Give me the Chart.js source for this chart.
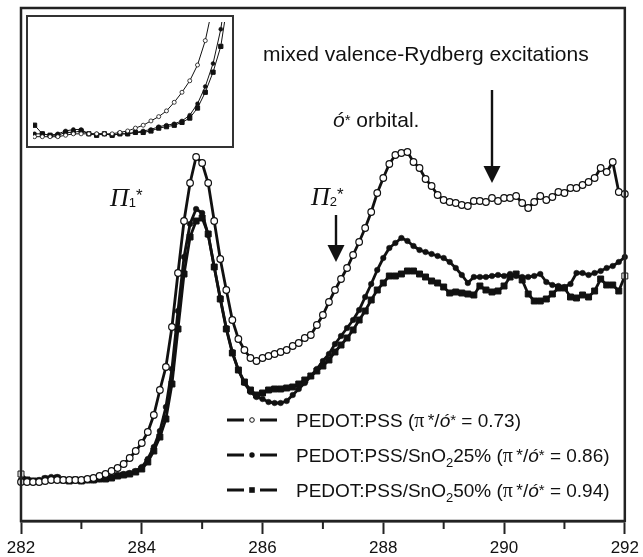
<!DOCTYPE html>
<html>
<head>
<meta charset="utf-8">
<script src="https://cdn.jsdelivr.net/npm/chart.js@4.4.0/dist/chart.umd.min.js"></script>
<style>
  html, body { margin: 0; padding: 0; background: #fff; }
  #wrap { position: relative; width: 643px; height: 557px; }
  #main { position: absolute; left: 0; top: 0; }
  #insetBox { position: absolute; left: 26px; top: 15px; width: 204px; height: 129px; border: 2px solid #333; background: #fff; }
  #inset { display: block; }
</style>
</head>
<body>
<div id="wrap">
  <canvas id="main" width="643" height="557"></canvas>
  <div id="insetBox"><canvas id="inset" width="204" height="129"></canvas></div>
</div>
<script>
// photon energy (eV)
const energy = [
  282.0, 282.1, 282.2, 282.3, 282.4, 282.5, 282.6, 282.7, 282.8, 282.9,
  283.0, 283.1, 283.2, 283.3, 283.4, 283.5, 283.6, 283.7, 283.8, 283.9,
  284.0, 284.1, 284.2, 284.3, 284.4, 284.5, 284.6, 284.7, 284.8, 284.9,
  285.0, 285.1, 285.2, 285.3, 285.4, 285.5, 285.6, 285.7, 285.8, 285.9,
  286.0, 286.1, 286.2, 286.3, 286.4, 286.5, 286.6, 286.7, 286.8, 286.9,
  287.0, 287.1, 287.2, 287.3, 287.4, 287.5, 287.6, 287.7, 287.8, 287.9,
  288.0, 288.1, 288.2, 288.3, 288.4, 288.5, 288.6, 288.7, 288.8, 288.9,
  289.0, 289.1, 289.2, 289.3, 289.4, 289.5, 289.6, 289.7, 289.8, 289.9,
  290.0, 290.1, 290.2, 290.3, 290.4, 290.5, 290.6, 290.7, 290.8, 290.9,
  291.0, 291.1, 291.2, 291.3, 291.4, 291.5, 291.6, 291.7, 291.8, 291.9,
  292.0
];

// intensity (a.u.)
const pedotPss = [
  37, 37, 37, 37, 38, 39, 39, 39, 39, 39,
  39, 40, 41, 43, 45, 48, 51, 55, 61, 68,
  76, 87, 104, 129, 152, 192, 246, 298, 336, 362,
  356, 336, 298, 260, 229, 199, 180, 169, 161, 158,
  161, 163, 165, 167, 169, 173, 176, 181, 184, 194,
  204, 217, 229, 240, 251, 264, 277, 291, 307, 326,
  341, 355, 364, 366, 367, 357, 351, 340, 333, 324,
  319, 317, 316, 314, 313, 318, 318, 317, 321, 318,
  321, 321, 323, 316, 311, 317, 323, 319, 322, 327,
  326, 331, 331, 334, 337, 341, 351, 347, 357, 327,
  325
];

const sno2_25 = [
  39, 39, 38, 39, 41, 42, 42, 39, 39, 39,
  38, 39, 39, 40, 41, 42, 44, 45, 46, 48,
  52, 60, 72, 88, 112, 150, 208, 262, 295, 310,
  306, 284, 252, 221, 191, 167, 149, 136, 127, 122,
  120, 117, 116, 116, 118, 124, 130, 136, 143, 150,
  158, 165, 175, 183, 191, 199, 209, 222, 235, 249,
  261, 271, 276, 281, 278, 273, 269, 267, 265, 263,
  261, 257, 251, 244, 236, 242, 242, 242, 243, 244,
  243, 245, 243, 242, 242, 243, 245, 237, 234, 233,
  232, 235, 246, 246, 244, 246, 248, 251, 253, 257,
  262
];

const sno2_50 = [
  45, 39, 38, 38, 40, 40, 41, 39, 38, 39,
  38, 39, 39, 40, 40, 41, 43, 44, 45, 47,
  50, 57, 68, 82, 100, 135, 190, 245, 282, 298,
  301, 285, 252, 220, 190, 166, 149, 137, 129, 124,
  126, 129, 130, 130, 131, 132, 135, 139, 143, 148,
  153, 159, 167, 174, 181, 189, 199, 208, 219, 229,
  236, 243, 243, 245, 248, 248, 245, 242, 238, 236,
  232, 226, 227, 226, 225, 224, 233, 229, 227, 228,
  233, 242, 245, 239, 225, 218, 218, 220, 225, 231,
  231, 222, 221, 224, 222, 228, 240, 234, 234, 228,
  243
];

const seriesNames = ['PEDOT:PSS', 'PEDOT:PSS/SnO₂25%', 'PEDOT:PSS/SnO₂50%'];
const ratios = ['0.73', '0.86', '0.94'];
const minorTicks = [283, 285, 287, 289, 291];

const SANS = '"Liberation Sans", Arial, Helvetica, sans-serif';
const SERIF = '"Liberation Serif", "Times New Roman", serif';
const INK = '#111';

const toPoints = ys => energy.map((e, i) => ({ x: e, y: ys[i] }));
const lastIdx = energy.length - 1;

function makeSets(small) {
    return [{
        label: seriesNames[0],
        data: toPoints(pedotPss),
        borderColor: INK,
        borderWidth: small ? 1 : 2.8,
        pointStyle: 'circle',
        pointRadius: small ? 2 : 3.3,
        pointBackgroundColor: '#fff',
        pointBorderColor: INK,
        pointBorderWidth: small ? 0.8 : 1.2
    }, {
        label: seriesNames[1],
        data: toPoints(sno2_25),
        borderColor: INK,
        borderWidth: small ? 1 : 2.8,
        pointStyle: 'circle',
        pointRadius: small ? 2 : 2.8,
        pointBackgroundColor: INK,
        pointBorderColor: INK,
        pointBorderWidth: 0.5
    }, {
        label: seriesNames[2],
        data: toPoints(sno2_50),
        borderColor: INK,
        borderWidth: small ? 1 : 2.8,
        pointStyle: 'rect',
        pointRadius: small ? 3 : 4.2,
        pointBackgroundColor: c => (!small && (c.dataIndex === 0 || c.dataIndex === lastIdx)) ? '#fff' : INK,
        pointBorderColor: INK,
        pointBorderWidth: 1
    }];
}

function drawRich(ctx, x, y, parts) {
    for (const [text, font, dy = 0] of parts) {
        ctx.font = font;
        ctx.fillText(text, x, y + dy);
        x += ctx.measureText(text).width;
    }
    return x;
}

function arrowDown(ctx, x, yFrom, yTip) {
    ctx.beginPath();
    ctx.moveTo(x, yFrom);
    ctx.lineTo(x, yTip - 12);
    ctx.stroke();
    ctx.beginPath();
    ctx.moveTo(x - 8.5, yTip - 17);
    ctx.lineTo(x + 8.5, yTip - 17);
    ctx.lineTo(x, yTip);
    ctx.closePath();
    ctx.fill();
}

function legendMarker(ctx, i, x, y) {
    ctx.beginPath();
    if (i === 0) {
        ctx.arc(x, y, 2.3, 0, Math.PI * 2);
        ctx.fillStyle = '#fff';
        ctx.fill();
        ctx.lineWidth = 1;
        ctx.stroke();
    } else if (i === 1) {
        ctx.arc(x, y, 2.7, 0, Math.PI * 2);
        ctx.fillStyle = INK;
        ctx.fill();
    } else {
        ctx.fillStyle = INK;
        ctx.fillRect(x - 2.8, y - 2.8, 5.6, 5.6);
    }
}

const decorations = {
    id: 'decorations',
    afterDraw(chart) {
        const { ctx, chartArea: a, scales: { x } } = chart;
        ctx.save();
        ctx.strokeStyle = '#222';
        ctx.fillStyle = INK;

        // frame
        ctx.lineWidth = 2.5;
        ctx.strokeRect(a.left, a.top, a.right - a.left, a.bottom - a.top);

        // minor ticks
        ctx.lineWidth = 2;
        minorTicks.forEach(v => {
            const px = x.getPixelForValue(v);
            ctx.beginPath();
            ctx.moveTo(px, a.bottom);
            ctx.lineTo(px, a.bottom + 8);
            ctx.stroke();
        });

        // annotations
        ctx.textBaseline = 'alphabetic';
        ctx.fillStyle = INK;
        ctx.font = `21px ${SANS}`;
        ctx.fillText('mixed valence-Rydberg excitations', 263, 61);
        drawRich(ctx, 333, 127, [
            ['ó', `italic 21px ${SANS}`],
            ['*', `15px ${SANS}`, -2],
            [' orbital.', `21px ${SANS}`]
        ]);
        drawRich(ctx, 110, 206, [
            ['Π', `italic 26px ${SERIF}`],
            ['1', `13px ${SANS}`, 1],
            ['*', `17px ${SANS}`, -5]
        ]);
        drawRich(ctx, 311, 205, [
            ['Π', `italic 26px ${SERIF}`],
            ['2', `13px ${SANS}`, 1],
            ['*', `17px ${SANS}`, -5]
        ]);

        ctx.lineWidth = 2.4;
        ctx.strokeStyle = INK;
        arrowDown(ctx, 492, 90, 183);
        arrowDown(ctx, 336, 215, 262);

        // legend
        const rowsY = [427, 462, 497];
        rowsY.forEach((by, i) => {
            const my = by - 7;
            ctx.strokeStyle = INK;
            ctx.lineWidth = 3;
            ctx.beginPath();
            ctx.moveTo(227, my); ctx.lineTo(244, my);
            ctx.moveTo(260, my); ctx.lineTo(277, my);
            ctx.stroke();
            legendMarker(ctx, i, 252, my);

            ctx.fillStyle = INK;
            const sans = `19px ${SANS}`;
            const parts = [];
            seriesNames[i].split('₂').forEach((seg, k) => {
                if (k) parts.push(['2', `13px ${SANS}`, 5]);
                parts.push([seg, sans]);
            });
            parts.push([' (', sans], ['π', `20px ${SERIF}`], ['\u2009*', `17px ${SANS}`, -1],
                ['/', sans], ['ó', `italic 19px ${SANS}`], ['*', `15px ${SANS}`, -2],
                [' = ' + ratios[i] + ')', sans]);
            drawRich(ctx, 296, by, parts);
        });
        ctx.restore();
    }
};

new Chart(document.getElementById('main'), {
    type: 'line',
    data: { datasets: makeSets(false).map(d => ({ ...d, clip: false })) },
    options: {
        responsive: false,
        animation: false,
        events: [],
        layout: { padding: { left: 21, right: 15, top: 8, bottom: 0 } },
        plugins: { legend: { display: false }, tooltip: { enabled: false } },
        scales: {
            x: {
                type: 'linear',
                min: 282,
                max: 292,
                ticks: {
                    stepSize: 2,
                    color: INK,
                    padding: 4,
                    font: { family: SANS, size: 17 },
                    callback: v => String(v)
                },
                grid: { drawOnChartArea: false, tickLength: 13, tickWidth: 2, tickColor: '#222' },
                border: { color: '#222', width: 2.5 },
                afterFit: scale => { scale.height = 36; }
            },
            y: { min: -2, max: 511, display: false }
        }
    },
    plugins: [decorations]
});

// inset: magnified pre-edge region
new Chart(document.getElementById('inset'), {
    type: 'line',
    data: { datasets: makeSets(true) },
    options: {
        responsive: false,
        animation: false,
        events: [],
        layout: { padding: 0 },
        plugins: { legend: { display: false }, tooltip: { enabled: false } },
        scales: {
            x: { type: 'linear', min: 281.98, max: 284.48, display: false },
            y: { min: 34, max: 117, display: false }
        }
    }
});
</script>
</body>
</html>
